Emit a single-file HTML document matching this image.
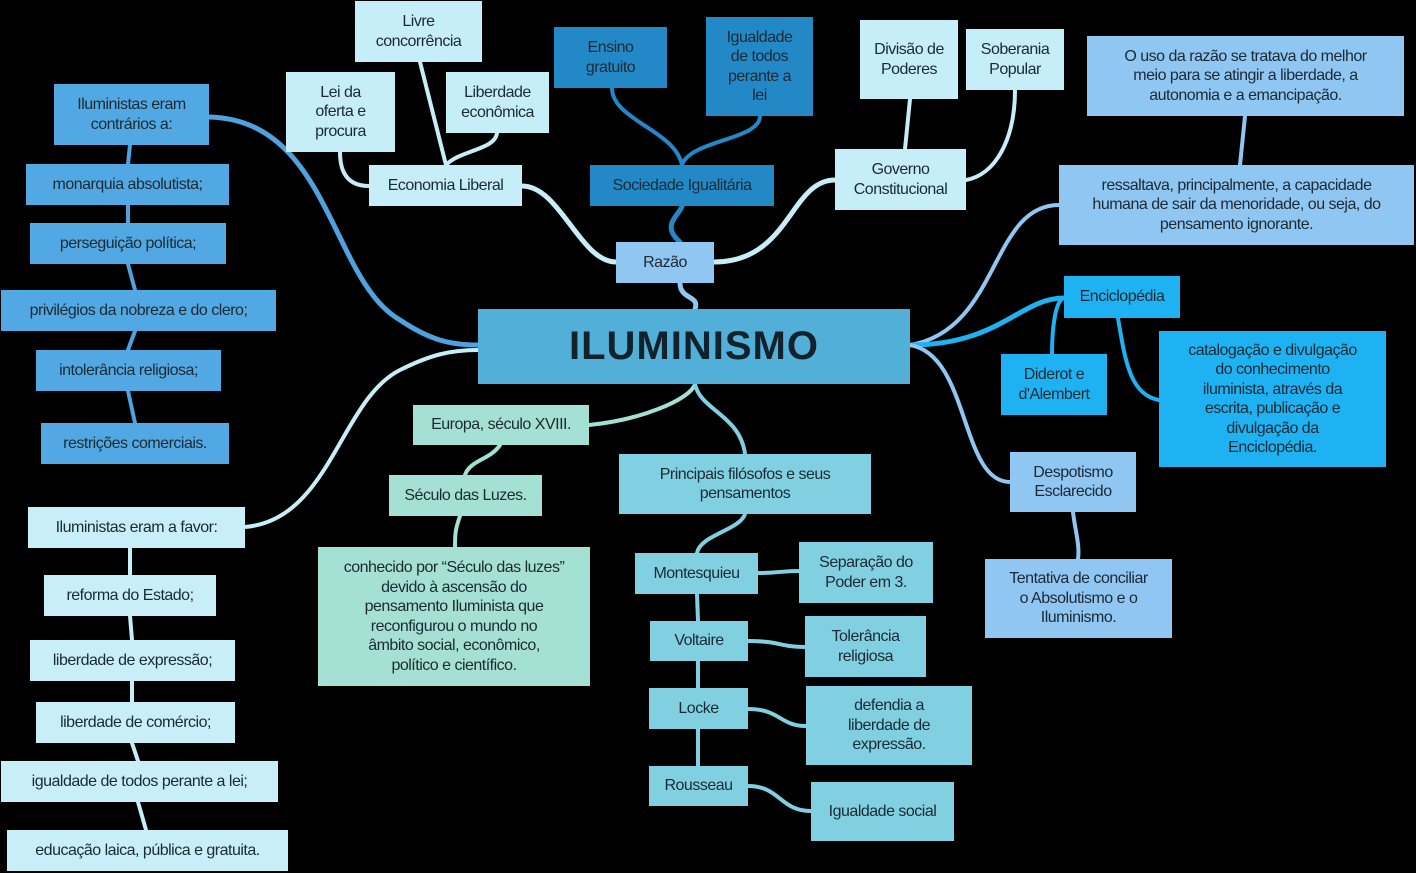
<!DOCTYPE html>
<html><head><meta charset="utf-8"><style>
body{margin:0;width:1416px;height:873px;background:#000;position:relative;overflow:hidden;font-family:"Liberation Sans",sans-serif;}
.b{position:absolute;display:flex;align-items:center;justify-content:center;text-align:center;font-size:16px;line-height:19.5px;color:#1b2a33;box-sizing:border-box;letter-spacing:-0.5px;}
.lc{background:#c6eef8}.dk{background:#2388c6}.md{background:#52a8e2}.rz{background:#90c6f2}
.en{background:#1fb2f2}.gr{background:#a5e0d4}.ph{background:#80d0e2}.fv{background:#c8eef8}
svg{position:absolute;left:0;top:0}
</style></head><body>
<svg width="1416" height="873" fill="none" stroke-linecap="round">
<path d="M209,117 C330,120 330,280 400,320 C430,340 450,345 478,345" stroke="#4fa2de" stroke-width="5"/>
<path d="M130,145 L128,164 M128,205 L128,223 M128,264 L135,290 M135,331 L128,350 M128,391 L135,423" stroke="#4fa2de" stroke-width="4"/>
<path d="M245,527 C330,520 340,400 400,370 C430,355 450,350 478,350" stroke="#c6eef8" stroke-width="4"/>
<path d="M130,548 L130,575 M130,616 L132,640 M132,681 L132,702 M132,743 L138,761 M138,802 L146,830" stroke="#c6eef8" stroke-width="4"/>
<path d="M680,283 C680,300 700,295 695,309" stroke="#90c6f2" stroke-width="5"/>
<path d="M616,262 C580,262 560,186 522,186" stroke="#c6eef8" stroke-width="5"/>
<path d="M369,186 C340,186 340,160 340,152" stroke="#c6eef8" stroke-width="4"/>
<path d="M446,165 L420,62 M446,165 C460,150 495,150 497,133" stroke="#c6eef8" stroke-width="4"/>
<path d="M680,242 C660,225 680,215 682,206" stroke="#2388c6" stroke-width="5"/>
<path d="M682,165 C675,130 612,120 612,88 M682,165 C690,140 760,140 760,116" stroke="#2388c6" stroke-width="4"/>
<path d="M714,262 C790,262 790,180 835,180" stroke="#c6eef8" stroke-width="5"/>
<path d="M905,149 L910,99 M966,180 C995,175 1015,140 1015,90" stroke="#c6eef8" stroke-width="4"/>
<path d="M910,345 C1000,330 990,205 1059,205" stroke="#90c6f2" stroke-width="4"/>
<path d="M1240,165 L1245,116" stroke="#90c6f2" stroke-width="4"/>
<path d="M910,345 C1000,345 1020,298 1064,298" stroke="#1fb2f2" stroke-width="5"/>
<path d="M1064,298 C1055,300 1052,330 1052,354 M1118,318 C1125,360 1130,395 1159,400" stroke="#1fb2f2" stroke-width="4"/>
<path d="M910,345 C970,355 960,482 1010,482" stroke="#90c6f2" stroke-width="4"/>
<path d="M1073,512 C1075,530 1080,545 1078,559" stroke="#90c6f2" stroke-width="4"/>
<path d="M695,384 C690,400 640,420 589,425" stroke="#a5e0d4" stroke-width="4"/>
<path d="M500,445 C490,460 470,460 465,475 M460,516 C455,530 455,535 455,547" stroke="#a5e0d4" stroke-width="4"/>
<path d="M695,384 C700,410 740,415 745,454" stroke="#80d0e2" stroke-width="4"/>
<path d="M745,514 C740,530 700,535 697,553 M697,594 L698,621 M698,661 L698,688 M698,729 L698,766" stroke="#80d0e2" stroke-width="4"/>
<path d="M758,573 C780,573 780,571 799,571 M748,641 C780,641 780,647 805,647 M748,709 C780,709 780,726 806,726 M748,786 C780,786 780,811 811,811" stroke="#80d0e2" stroke-width="4"/>
</svg>

<div class="b lc" style="left:355px;top:1px;width:127px;height:61px">Livre<br>concorrência</div>
<div class="b lc" style="left:286px;top:72px;width:109px;height:80px">Lei da<br>oferta e<br>procura</div>
<div class="b lc" style="left:446px;top:72px;width:103px;height:61px">Liberdade<br>econômica</div>
<div class="b lc" style="left:369px;top:165px;width:153px;height:41px">Economia Liberal</div>
<div class="b dk" style="left:554px;top:27px;width:113px;height:61px">Ensino<br>gratuito</div>
<div class="b dk" style="left:706px;top:17px;width:107px;height:99px">Igualdade<br>de todos<br>perante a<br>lei</div>
<div class="b dk" style="left:590px;top:165px;width:184px;height:41px">Sociedade Igualitária</div>
<div class="b lc" style="left:860px;top:20px;width:98px;height:79px">Divisão de<br>Poderes</div>
<div class="b lc" style="left:966px;top:29px;width:98px;height:61px">Soberania<br>Popular</div>
<div class="b lc" style="left:835px;top:149px;width:131px;height:61px">Governo<br>Constitucional</div>
<div class="b rz" style="left:1087px;top:36px;width:317px;height:80px">O uso da razão se tratava do melhor<br>meio para se atingir a liberdade, a<br>autonomia e a emancipação.</div>
<div class="b rz" style="left:1059px;top:165px;width:355px;height:80px">ressaltava, principalmente, a capacidade<br>humana de sair da menoridade, ou seja, do<br>pensamento ignorante.</div>
<div class="b rz" style="left:616px;top:242px;width:98px;height:41px">Razão</div>
<div class="b" style="left:478px;top:309px;width:432px;height:75px;background:#52b0d8;font-size:40px;font-weight:bold;letter-spacing:1px;color:#12222c">ILUMINISMO</div>
<div class="b en" style="left:1064px;top:276px;width:116px;height:42px">Enciclopédia</div>
<div class="b en" style="left:1001px;top:354px;width:106px;height:61px">Diderot e<br>d'Alembert</div>
<div class="b en" style="left:1159px;top:331px;width:227px;height:136px">catalogação e divulgação<br>do conhecimento<br>iluminista, através da<br>escrita, publicação e<br>divulgação da<br>Enciclopédia.</div>
<div class="b rz" style="left:1010px;top:452px;width:126px;height:60px">Despotismo<br>Esclarecido</div>
<div class="b rz" style="left:985px;top:559px;width:187px;height:79px">Tentativa de conciliar<br>o Absolutismo e o<br>Iluminismo.</div>

<div class="b md" style="left:54px;top:84px;width:155px;height:61px">Iluministas eram<br>contrários a:</div>
<div class="b md" style="left:26px;top:164px;width:203px;height:41px">monarquia absolutista;</div>
<div class="b md" style="left:30px;top:223px;width:196px;height:41px">perseguição política;</div>
<div class="b md" style="left:1px;top:290px;width:275px;height:41px">privilégios da nobreza e do clero;</div>
<div class="b md" style="left:36px;top:350px;width:185px;height:41px">intolerância religiosa;</div>
<div class="b md" style="left:41px;top:423px;width:188px;height:41px">restrições comerciais.</div>

<div class="b fv" style="left:28px;top:507px;width:217px;height:41px">Iluministas eram a favor:</div>
<div class="b fv" style="left:44px;top:575px;width:172px;height:41px">reforma do Estado;</div>
<div class="b fv" style="left:30px;top:640px;width:205px;height:41px">liberdade de expressão;</div>
<div class="b fv" style="left:36px;top:702px;width:199px;height:41px">liberdade de comércio;</div>
<div class="b fv" style="left:1px;top:761px;width:277px;height:41px">igualdade de todos perante a lei;</div>
<div class="b fv" style="left:7px;top:830px;width:281px;height:41px">educação laica, pública e gratuita.</div>

<div class="b gr" style="left:413px;top:405px;width:176px;height:40px">Europa, século XVIII.</div>
<div class="b gr" style="left:389px;top:475px;width:153px;height:41px">Século das Luzes.</div>
<div class="b gr" style="left:318px;top:547px;width:272px;height:139px">conhecido por “Século das luzes”<br>devido à ascensão do<br>pensamento Iluminista que<br>reconfigurou o mundo no<br>âmbito social, econômico,<br>político e científico.</div>

<div class="b ph" style="left:619px;top:454px;width:252px;height:60px">Principais filósofos e seus<br>pensamentos</div>
<div class="b ph" style="left:635px;top:553px;width:123px;height:41px">Montesquieu</div>
<div class="b ph" style="left:799px;top:542px;width:134px;height:61px">Separação do<br>Poder em 3.</div>
<div class="b ph" style="left:650px;top:621px;width:98px;height:40px">Voltaire</div>
<div class="b ph" style="left:805px;top:616px;width:121px;height:61px">Tolerância<br>religiosa</div>
<div class="b ph" style="left:649px;top:688px;width:99px;height:41px">Locke</div>
<div class="b ph" style="left:806px;top:686px;width:166px;height:79px">defendia a<br>liberdade de<br>expressão.</div>
<div class="b ph" style="left:649px;top:766px;width:99px;height:40px">Rousseau</div>
<div class="b ph" style="left:811px;top:782px;width:143px;height:59px">Igualdade social</div>
</body></html>
